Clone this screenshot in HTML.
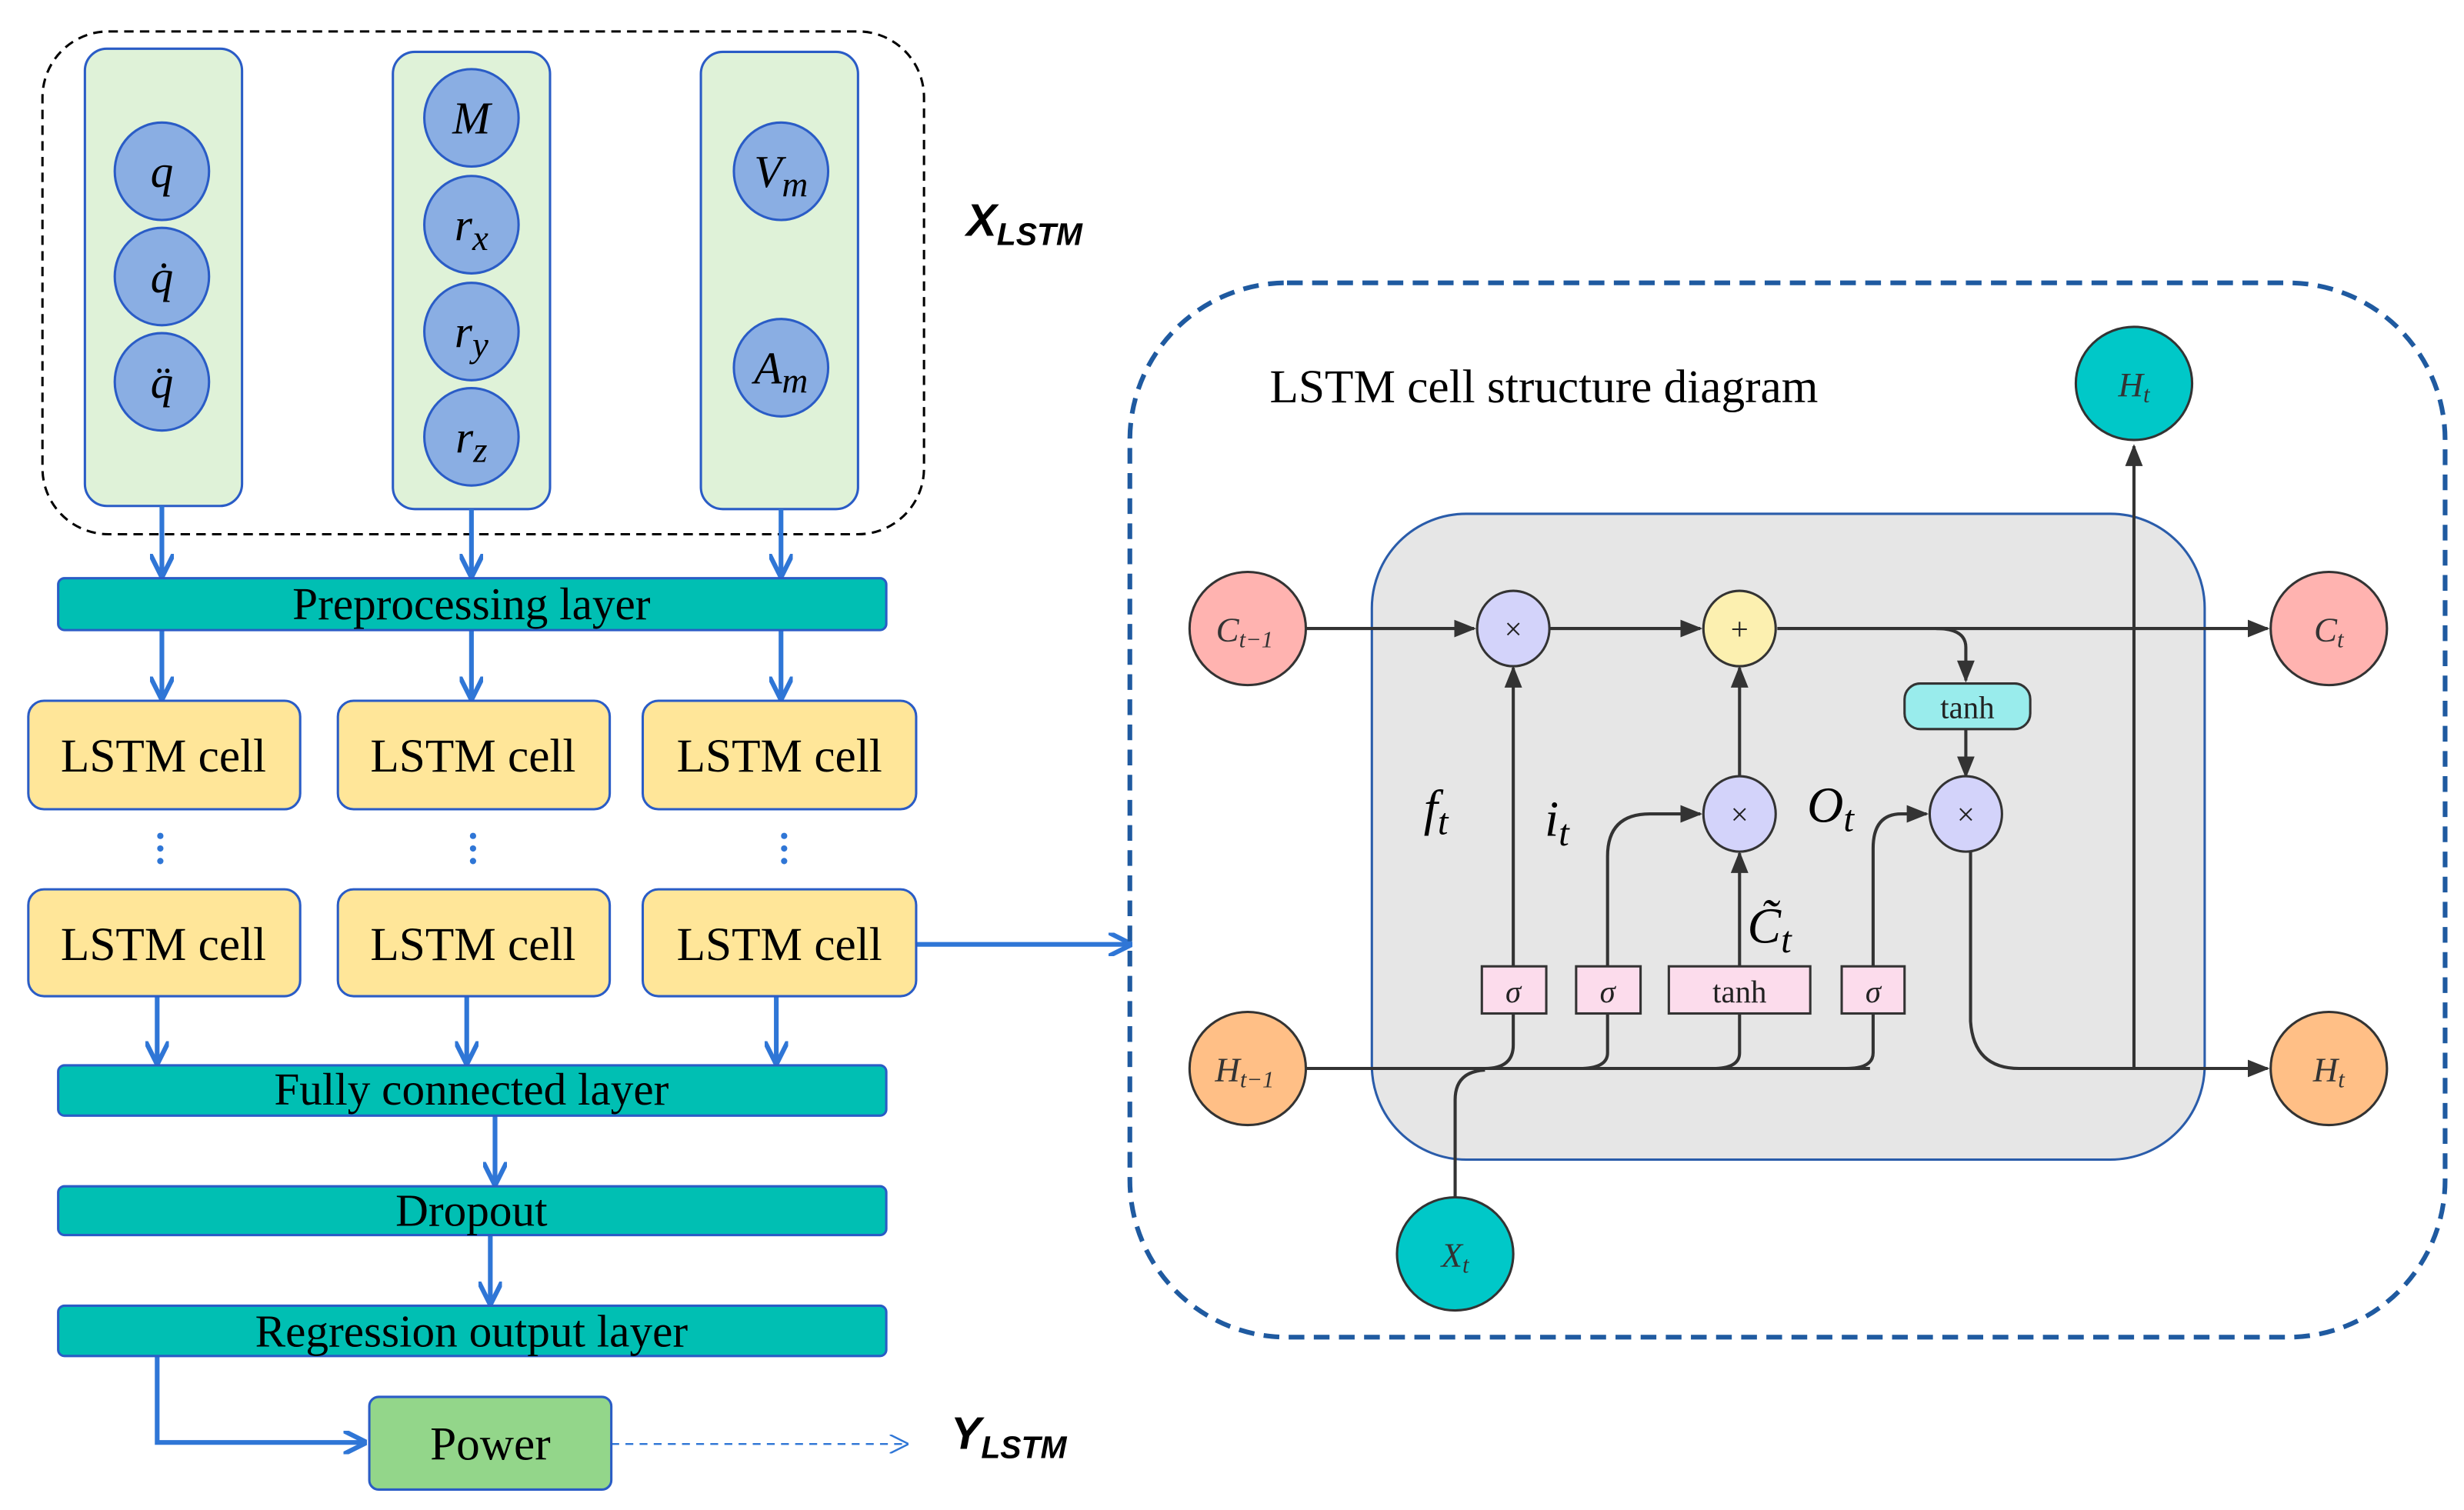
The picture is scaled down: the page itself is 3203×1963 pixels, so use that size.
<!DOCTYPE html>
<html><head><meta charset="utf-8"><style>html,body{margin:0;padding:0;background:#fff}svg{display:block}</style></head><body>
<svg width="3203" height="1963" viewBox="0 0 1568 961" xmlns="http://www.w3.org/2000/svg" font-family="Liberation Serif, serif">
<defs>
<marker id="ab" viewBox="0 0 10 10" refX="9" refY="5" markerWidth="5" markerHeight="5" orient="auto" markerUnits="strokeWidth"><path d="M0,0 L10,5 L0,10" fill="none" stroke="#2f76d6" stroke-width="2"/></marker>
<marker id="ak" viewBox="0 0 10 10" refX="9" refY="5" markerWidth="7" markerHeight="7" orient="auto" markerUnits="strokeWidth"><path d="M0,1 L10,5 L0,9z" fill="#333"/></marker>
<marker id="ad" viewBox="0 0 10 10" refX="9" refY="5" markerWidth="10" markerHeight="10" orient="auto" markerUnits="strokeWidth"><path d="M0,0 L10,5 L0,10" fill="none" stroke="#2f76d6" stroke-width="1"/></marker>
</defs>
<rect x="27" y="20" width="561" height="320" rx="42" fill="none" stroke="#000" stroke-width="1.5" stroke-dasharray="6 4"/>
<g fill="#dff2d8" stroke="#2a5cc6" stroke-width="1.5">
<rect x="54" y="31" width="100" height="291" rx="14"/>
<rect x="250" y="33" width="100" height="291" rx="14"/>
<rect x="446" y="33" width="100" height="291" rx="14"/>
</g>
<g fill="#8aaee3" stroke="#2a5cc6" stroke-width="1.5">
<ellipse cx="103" cy="109" rx="30" ry="31"/><ellipse cx="103" cy="176" rx="30" ry="31"/><ellipse cx="103" cy="243" rx="30" ry="31"/>
<ellipse cx="300" cy="75" rx="30" ry="31"/><ellipse cx="300" cy="143" rx="30" ry="31"/><ellipse cx="300" cy="211" rx="30" ry="31"/><ellipse cx="300" cy="278" rx="30" ry="31"/>
<ellipse cx="497" cy="109" rx="30" ry="31"/><ellipse cx="497" cy="234" rx="30" ry="31"/>
</g>
<g font-style="italic" font-size="29" fill="#000" text-anchor="middle">
<text x="103" y="119">q</text><text x="103" y="186">q̇</text><text x="103" y="253">q̈</text>
<text x="300" y="85">M</text>
<text x="300" y="153">r<tspan font-size="23" dy="6">x</tspan></text>
<text x="300" y="221">r<tspan font-size="23" dy="6">y</tspan></text>
<text x="300" y="288">r<tspan font-size="23" dy="6">z</tspan></text>
<text x="497" y="119">V<tspan font-size="23" dy="6">m</tspan></text>
<text x="497" y="244">A<tspan font-size="23" dy="6">m</tspan></text>
</g>
<text x="615" y="150" font-family="Liberation Sans, sans-serif" font-weight="bold" font-style="italic" font-size="29">X<tspan font-size="20" dy="6">LSTM</tspan></text>
<g stroke="#2f76d6" stroke-width="3" fill="none" marker-end="url(#ab)">
<line x1="103" y1="322" x2="103" y2="366"/><line x1="300" y1="324" x2="300" y2="366"/><line x1="497" y1="324" x2="497" y2="366"/>
<line x1="103" y1="401" x2="103" y2="444"/><line x1="300" y1="401" x2="300" y2="444"/><line x1="497" y1="401" x2="497" y2="444"/>
<line x1="100" y1="634" x2="100" y2="676"/><line x1="297" y1="634" x2="297" y2="676"/><line x1="494" y1="634" x2="494" y2="676"/>
<line x1="315" y1="710" x2="315" y2="753"/><line x1="312" y1="786" x2="312" y2="829"/>
<polyline points="100,863 100,918 232,918"/>
<line x1="583" y1="601" x2="719" y2="601"/>
</g>
<line x1="389" y1="919" x2="577" y2="919" stroke="#2f76d6" stroke-width="1.2" stroke-dasharray="5 4" marker-end="url(#ad)"/>
<g fill="#00bfb3" stroke="#2a5cc6" stroke-width="1.5">
<rect x="37" y="368" width="527" height="33" rx="4"/>
<rect x="37" y="678" width="527" height="32" rx="4"/>
<rect x="37" y="755" width="527" height="31" rx="4"/>
<rect x="37" y="831" width="527" height="32" rx="4"/>
</g>
<g font-size="29" text-anchor="middle" fill="#000">
<text x="300" y="394">Preprocessing layer</text>
<text x="300" y="703">Fully connected layer</text>
<text x="300" y="780">Dropout</text>
<text x="300" y="857">Regression output layer</text>
</g>
<g fill="#ffe699" stroke="#2a5cc6" stroke-width="1.5">
<rect x="18" y="446" width="173" height="69" rx="10"/><rect x="215" y="446" width="173" height="69" rx="10"/><rect x="409" y="446" width="174" height="69" rx="10"/>
<rect x="18" y="566" width="173" height="68" rx="10"/><rect x="215" y="566" width="173" height="68" rx="10"/><rect x="409" y="566" width="174" height="68" rx="10"/>
</g>
<g font-size="30" text-anchor="middle" fill="#000">
<text x="104" y="491">LSTM cell</text><text x="301" y="491">LSTM cell</text><text x="496" y="491">LSTM cell</text>
<text x="104" y="611">LSTM cell</text><text x="301" y="611">LSTM cell</text><text x="496" y="611">LSTM cell</text>
</g>
<g fill="#2f76d6">
<circle cx="102" cy="532" r="2"/><circle cx="102" cy="540" r="2"/><circle cx="102" cy="548" r="2"/>
<circle cx="301" cy="532" r="2"/><circle cx="301" cy="540" r="2"/><circle cx="301" cy="548" r="2"/>
<circle cx="499" cy="532" r="2"/><circle cx="499" cy="540" r="2"/><circle cx="499" cy="548" r="2"/>
</g>
<rect x="235" y="889" width="154" height="59" rx="6" fill="#93d68a" stroke="#2a5cc6" stroke-width="1.5"/>
<text x="312" y="929" font-size="30" text-anchor="middle">Power</text>
<text x="605" y="922" font-family="Liberation Sans, sans-serif" font-weight="bold" font-style="italic" font-size="29">Y<tspan font-size="20" dy="6">LSTM</tspan></text>
<rect x="719" y="180" width="837" height="671" rx="100" fill="none" stroke="#1f5aa0" stroke-width="3" stroke-dasharray="10 6"/>
<text x="808" y="256" font-size="30">LSTM cell structure diagram</text>
<rect x="873" y="327" width="530" height="411" rx="60" fill="#e6e6e6" stroke="#2a5caa" stroke-width="1.5"/>
<g stroke="#333" stroke-width="2" fill="none">
<line x1="831" y1="400" x2="938" y2="400" marker-end="url(#ak)"/>
<line x1="986" y1="400" x2="1082" y2="400" marker-end="url(#ak)"/>
<line x1="1131" y1="400" x2="1443" y2="400" marker-end="url(#ak)"/>
<path d="M1232,400 Q1251,400 1251,412 L1251,433" marker-end="url(#ak)"/>
<line x1="1251" y1="464" x2="1251" y2="494" marker-end="url(#ak)"/>
<line x1="831" y1="680" x2="1190" y2="680"/>
<path d="M1254,541 L1254,650 Q1256,680 1285,680 L1443,680" marker-end="url(#ak)"/>
<line x1="1358" y1="680" x2="1358" y2="284" marker-end="url(#ak)"/>
<line x1="963" y1="615" x2="963" y2="425" marker-end="url(#ak)"/>
<path d="M1023,615 L1023,545 Q1023,518 1050,518 L1082,518" marker-end="url(#ak)"/>
<line x1="1107" y1="615" x2="1107" y2="543" marker-end="url(#ak)"/>
<line x1="1107" y1="495" x2="1107" y2="425" marker-end="url(#ak)"/>
<path d="M1192,615 L1192,540 Q1192,518 1210,518 L1226,518" marker-end="url(#ak)"/>
<path d="M963,645 L963,665 Q963,680 945,680"/>
<path d="M1023,645 L1023,670 Q1023,680 1005,680"/>
<path d="M1107,645 L1107,670 Q1107,680 1090,680"/>
<path d="M1192,645 L1192,670 Q1192,680 1175,680"/>
<path d="M926,762 L926,700 Q926,682 945,681"/>
</g>
<g stroke="#333" stroke-width="1.5">
<ellipse cx="794" cy="400" rx="37" ry="36" fill="#ffb3b0"/>
<ellipse cx="1482" cy="400" rx="37" ry="36" fill="#ffb3b0"/>
<ellipse cx="794" cy="680" rx="37" ry="36" fill="#ffbf86"/>
<ellipse cx="1482" cy="680" rx="37" ry="36" fill="#ffbf86"/>
<ellipse cx="1358" cy="244" rx="37" ry="36" fill="#00c8c8"/>
<ellipse cx="926" cy="798" rx="37" ry="36" fill="#00c8c8"/>
<ellipse cx="963" cy="400" rx="23" ry="24" fill="#d3d3fa"/>
<ellipse cx="1107" cy="400" rx="23" ry="24" fill="#fcf0b0"/>
<ellipse cx="1107" cy="518" rx="23" ry="24" fill="#d3d3fa"/>
<ellipse cx="1251" cy="518" rx="23" ry="24" fill="#d3d3fa"/>
<rect x="1212" y="435" width="80" height="29" rx="10" fill="#99ecec"/>
<rect x="943" y="615" width="41" height="30" fill="#fcdcec"/>
<rect x="1003" y="615" width="41" height="30" fill="#fcdcec"/>
<rect x="1062" y="615" width="90" height="30" fill="#fcdcec"/>
<rect x="1172" y="615" width="40" height="30" fill="#fcdcec"/>
</g>
<g font-size="20" text-anchor="middle" fill="#222">
<text x="963" y="407">×</text><text x="1107" y="407">+</text><text x="1107" y="525">×</text><text x="1251" y="525">×</text>
<text x="1252" y="457">tanh</text><text x="1107" y="638">tanh</text>
<text x="963" y="638" font-style="italic">σ</text><text x="1023" y="638" font-style="italic">σ</text><text x="1192" y="638" font-style="italic">σ</text>
</g>
<g font-size="22" font-style="italic" text-anchor="middle" fill="#333">
<text x="792" y="408">C<tspan font-size="15" dy="4">t−1</tspan></text>
<text x="1482" y="408">C<tspan font-size="15" dy="4">t</tspan></text>
<text x="792" y="688">H<tspan font-size="15" dy="4">t−1</tspan></text>
<text x="1482" y="688">H<tspan font-size="15" dy="4">t</tspan></text>
<text x="1358" y="252">H<tspan font-size="15" dy="4">t</tspan></text>
<text x="926" y="806">X<tspan font-size="15" dy="4">t</tspan></text>
</g>
<g font-size="32" font-style="italic" fill="#000">
<text x="906" y="525">f<tspan font-size="24" dy="6">t</tspan></text>
<text x="983" y="532">i<tspan font-size="24" dy="6">t</tspan></text>
<text x="1150" y="523">O<tspan font-size="24" dy="6">t</tspan></text>
<text x="1112" y="600">C̃<tspan font-size="24" dy="6">t</tspan></text>
</g>
</svg>
</body></html>
